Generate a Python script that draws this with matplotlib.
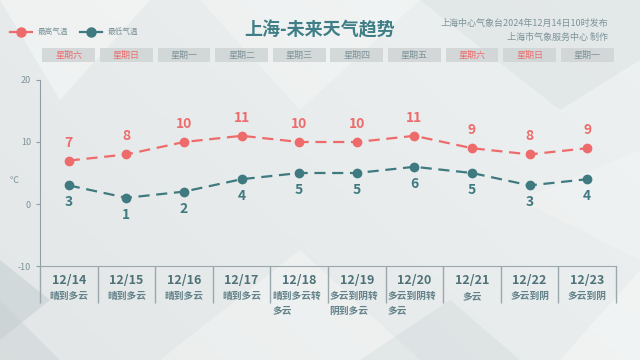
import matplotlib
matplotlib.use("Agg")
import matplotlib.pyplot as plt
import matplotlib.transforms as mtrans
from matplotlib.patches import Rectangle, Polygon
import numpy as np

plt.rcParams['font.family'] = ['Noto Sans CJK SC', 'DejaVu Sans']

dates = ["12/14", "12/15", "12/16", "12/17", "12/18", "12/19", "12/20", "12/21", "12/22", "12/23"]
weekdays = ["星期六", "星期日", "星期一", "星期二", "星期三", "星期四", "星期五", "星期六", "星期日", "星期一"]
weather = ["晴到多云", "晴到多云", "晴到多云", "晴到多云", "晴到多云转\n多云", "多云到阴转\n阴到多云",
           "多云到阴转\n多云", "多云", "多云到阴", "多云到阴"]
high = [7, 8, 10, 11, 10, 10, 11, 9, 8, 9]
low = [3, 1, 2, 4, 5, 5, 6, 5, 3, 4]
yticks = [-10, 0, 10, 20]

RED = "#ee6b6c"
TEAL = "#3f7a80"
GREY_TXT = "#7d9399"

fig = plt.figure(figsize=(6.4, 3.6), dpi=100)

# background
bg = fig.add_axes([0, 0, 1, 1])
bg.set_xlim(0, 640); bg.set_ylim(360, 0); bg.axis('off')
yy, xx = np.mgrid[0:360, 0:640]
g = 0.905 + 0.025 * (xx / 640.0) + 0.015 * (1 - yy / 360.0)
img = np.dstack([g * 0.985, g * 1.0, g * 1.0])
bg.imshow(np.clip(img, 0, 1), extent=[0, 640, 360, 0], aspect='auto', zorder=0)
polys = [
    ([(0, 0), (150, 0), (60, 100)], "#ffffff", 0.40),
    ([(200, 0), (420, 0), (300, 110)], "#ffffff", 0.30),
    ([(420, 0), (640, 0), (640, 60), (560, 110)], "#c9d3d5", 0.25),
    ([(0, 260), (50, 300), (0, 340)], "#b9c5c8", 0.40),
    ([(0, 300), (40, 340), (60, 360), (0, 360)], "#c2cdcf", 0.35),
    ([(160, 360), (300, 250), (420, 360)], "#ffffff", 0.30),
    ([(360, 360), (450, 300), (520, 360)], "#c9d3d5", 0.30),
    ([(560, 360), (640, 270), (640, 360)], "#ffffff", 0.35),
    ([(520, 200), (640, 150), (640, 260)], "#ffffff", 0.20),
]
for pts, c, a in polys:
    bg.add_patch(Polygon(pts, closed=True, facecolor=c, edgecolor='none', alpha=a, zorder=1))

# main axes
ax = fig.add_axes([40 / 640, (360 - 266) / 360, 576 / 640, 186 / 360])
ax.patch.set_alpha(0)
x = np.arange(len(dates))
ax.set_xlim(-0.5, len(dates) - 0.5)
ax.set_ylim(-10, 20)
ax.plot(x, high, color=RED, lw=1.6, ls=(0, (5, 3)), marker='o', ms=6, zorder=3)
ax.plot(x, low, color=TEAL, lw=1.6, ls=(0, (5, 3)), marker='o', ms=6, zorder=3)
for xi, h, l in zip(x, high, low):
    ax.annotate(str(h), (xi, h), xytext=(0, 11), textcoords='offset pixels', ha='center', va='bottom',
                color=RED, fontsize=10, fontweight='bold')
    ax.annotate(str(l), (xi, l), xytext=(0, -10), textcoords='offset pixels', ha='center', va='top',
                color=TEAL, fontsize=10, fontweight='bold')

for s in ['top', 'right']:
    ax.spines[s].set_visible(False)
ax.spines['left'].set_color("#8fa0a4")
ax.spines['bottom'].set_color("#9aa8ab")
ax.set_yticks(yticks)
ax.set_yticklabels([str(t) for t in yticks])
ax.tick_params(axis='y', colors="#8fa0a4", labelsize=6.5, length=3, labelcolor=GREY_TXT)
ax.set_xticks([])
ax.text(-0.045, 3.8, "℃", transform=mtrans.blended_transform_factory(ax.transAxes, ax.transData),
        ha='center', va='center', fontsize=6.5, color=GREY_TXT)

# table below
xt = ax.get_xaxis_transform()
ax.vlines(np.arange(len(dates) + 1) - 0.5, -37 / 186, 0, transform=xt, colors="#9aa8ab", lw=1, clip_on=False)
for xi, d, w in zip(x, dates, weather):
    ax.annotate(d, (xi, 0), xycoords=xt, xytext=(0, -14), textcoords='offset pixels', ha='center',
                va='center', fontsize=9, fontweight='bold', color="#4f7279", annotation_clip=False)
    if "\n" in w:
        ax.annotate(w, (xi - 0.47, 0), xycoords=xt, xytext=(0, -25), textcoords='offset pixels', ha='left',
                    va='top', fontsize=7, fontweight='bold', color="#628189", linespacing=1.55,
                    annotation_clip=False)
    else:
        ax.annotate(w, (xi, 0), xycoords=xt, xytext=(0, -25), textcoords='offset pixels', ha='center',
                    va='top', fontsize=7, fontweight='bold', color="#628189", annotation_clip=False)

# weekday boxes
bt = mtrans.blended_transform_factory(ax.transData, fig.transFigure)
for xi, wd in zip(x, weekdays):
    fig.patches.append(Rectangle((xi - 0.46, (360 - 62) / 360), 0.92, 14 / 360, transform=bt,
                                 facecolor="#cfd4d5", edgecolor='none', alpha=0.85, figure=fig))
    c = RED if wd in ("星期六", "星期日") else GREY_TXT
    fig.text(xi, (360 - 55) / 360, wd, transform=bt, ha='center', va='center', fontsize=6.5, color=c)

# title
fig.text(320 / 640, (360 - 30) / 360, "上海-未来天气趋势", ha='center', va='center', fontsize=13,
         fontweight='bold', color="#3f7e86")
fig.text(608 / 640, (360 - 23) / 360, "上海中心气象台2024年12月14日10时发布", ha='right', va='center',
         fontsize=6.5, color=GREY_TXT)
fig.text(608 / 640, (360 - 37) / 360, "上海市气象服务中心 制作", ha='right', va='center',
         fontsize=6.5, color=GREY_TXT)

# legend
for (x0, col, lab) in [(10, RED, "最高气温"), (80, TEAL, "最低气温")]:
    bg.plot([x0, x0 + 22], [32, 32], color=col, lw=1.6, zorder=5)
    bg.plot([x0 + 11], [32], marker='o', color=col, ms=6.5, zorder=5)
    bg.text(x0 + 28, 32, lab, ha='left', va='center', fontsize=5.5, color=GREY_TXT, zorder=5)
bg.set_xlim(0, 640); bg.set_ylim(360, 0)

fig.savefig("out.png", dpi=100)
